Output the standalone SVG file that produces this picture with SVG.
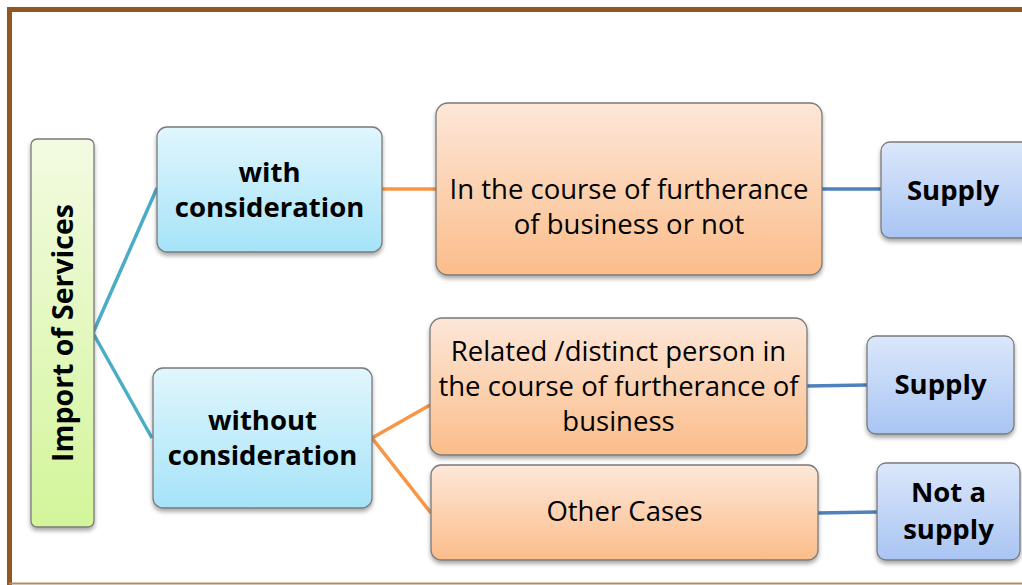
<svg xmlns="http://www.w3.org/2000/svg" width="1022" height="585" viewBox="0 0 1022 585">
  <defs>
    <linearGradient id="gGreen" x1="0" y1="0" x2="0" y2="1">
      <stop offset="0" stop-color="#f3fbe2"/>
      <stop offset="1" stop-color="#d3f59a"/>
    </linearGradient>
    <linearGradient id="gBlue" x1="0" y1="0" x2="0" y2="1">
      <stop offset="0" stop-color="#e0f6fd"/>
      <stop offset="1" stop-color="#a6e3f8"/>
    </linearGradient>
    <linearGradient id="gOrange" x1="0" y1="0" x2="0" y2="1">
      <stop offset="0" stop-color="#fde7d8"/>
      <stop offset="1" stop-color="#fbbd8a"/>
    </linearGradient>
    <linearGradient id="gPeri" x1="0" y1="0" x2="0" y2="1">
      <stop offset="0" stop-color="#dbe7fb"/>
      <stop offset="1" stop-color="#a9c5f3"/>
    </linearGradient>
    <filter id="shadow" x="-10%" y="-10%" width="120%" height="130%">
      <feDropShadow dx="0" dy="3" stdDeviation="2" flood-color="#000" flood-opacity="0.35"/>
    </filter>
  </defs>
  <style>
    .box { stroke: #7a7a7a; stroke-width: 1.3; filter: url(#shadow); }
    .bold { font-family: "Open Sans", "Liberation Sans", sans-serif; font-weight: bold; font-size: 27.5px; fill: #000; text-anchor: middle; }
    .reg { font-family: "Open Sans", "Liberation Sans", sans-serif; font-size: 27.5px; fill: #000; text-anchor: middle; }
    .teal { stroke: #4bacc6; stroke-width: 3.5; fill: none; }
    .orange { stroke: #f79646; stroke-width: 3.5; fill: none; }
    .blue { stroke: #4f81bd; stroke-width: 3.5; fill: none; }
  </style>

  <rect width="1022" height="585" fill="#ffffff"/>

  <!-- frame -->
  <path d="M9.5 585 V9.5 H1022" fill="none" stroke="#92561f" stroke-width="5"/>
  <line x1="9" y1="583.5" x2="1022" y2="583.5" stroke="#b88a63" stroke-width="1.8"/>

  <!-- connectors -->
  <g id="connectors">
    <polyline class="teal" points="157,188 93,333 152,438"/>
    <line class="orange" x1="382" y1="189" x2="436" y2="189"/>
    <polyline class="orange" points="430,405 372,438 431,513"/>
    <line class="blue" x1="822" y1="189" x2="881" y2="189"/>
    <line class="blue" x1="807" y1="386" x2="867" y2="385"/>
    <line class="blue" x1="818" y1="513" x2="877" y2="512"/>
  </g>

  <g id="import-of-services">
    <rect class="box" x="31" y="139" width="63" height="388" rx="6" fill="url(#gGreen)"/>
    <text class="bold" style="font-size:28.5px" transform="translate(73 333) rotate(-90)">Import of Services</text>
  </g>

  <g id="with-consideration">
    <rect class="box" x="157" y="127" width="225" height="125" rx="10" fill="url(#gBlue)"/>
    <text class="bold" x="269.5" y="182">with</text>
    <text class="bold" x="269.5" y="217">consideration</text>
  </g>

  <g id="without-consideration">
    <rect class="box" x="153" y="368" width="219" height="140" rx="10" fill="url(#gBlue)"/>
    <text class="bold" x="262.5" y="430">without</text>
    <text class="bold" x="262.5" y="465">consideration</text>
  </g>

  <g id="furtherance-or-not">
    <rect class="box" x="436" y="103" width="386" height="172" rx="12" fill="url(#gOrange)"/>
    <text class="reg" x="629" y="199">In the course of furtherance</text>
    <text class="reg" x="629" y="234">of business or not</text>
  </g>

  <g id="related-person">
    <rect class="box" x="430" y="318" width="377" height="137" rx="12" fill="url(#gOrange)"/>
    <text class="reg" x="618.5" y="361">Related /distinct person in</text>
    <text class="reg" x="618.5" y="396">the course of furtherance of</text>
    <text class="reg" x="618.5" y="431">business</text>
  </g>

  <g id="other-cases">
    <rect class="box" x="431" y="465" width="387" height="95" rx="10" fill="url(#gOrange)"/>
    <text class="reg" x="624.5" y="521">Other Cases</text>
  </g>

  <g id="supply-1">
    <rect class="box" x="881" y="142" width="150" height="96" rx="9" fill="url(#gPeri)"/>
    <text class="bold" x="953" y="200">Supply</text>
  </g>

  <g id="supply-2">
    <rect class="box" x="867" y="336" width="147" height="98" rx="9" fill="url(#gPeri)"/>
    <text class="bold" x="940.5" y="394">Supply</text>
  </g>

  <g id="not-a-supply">
    <rect class="box" x="877" y="463" width="143" height="97" rx="9" fill="url(#gPeri)"/>
    <text class="bold" x="948.5" y="502">Not a</text>
    <text class="bold" x="948.5" y="539">supply</text>
  </g>
</svg>
